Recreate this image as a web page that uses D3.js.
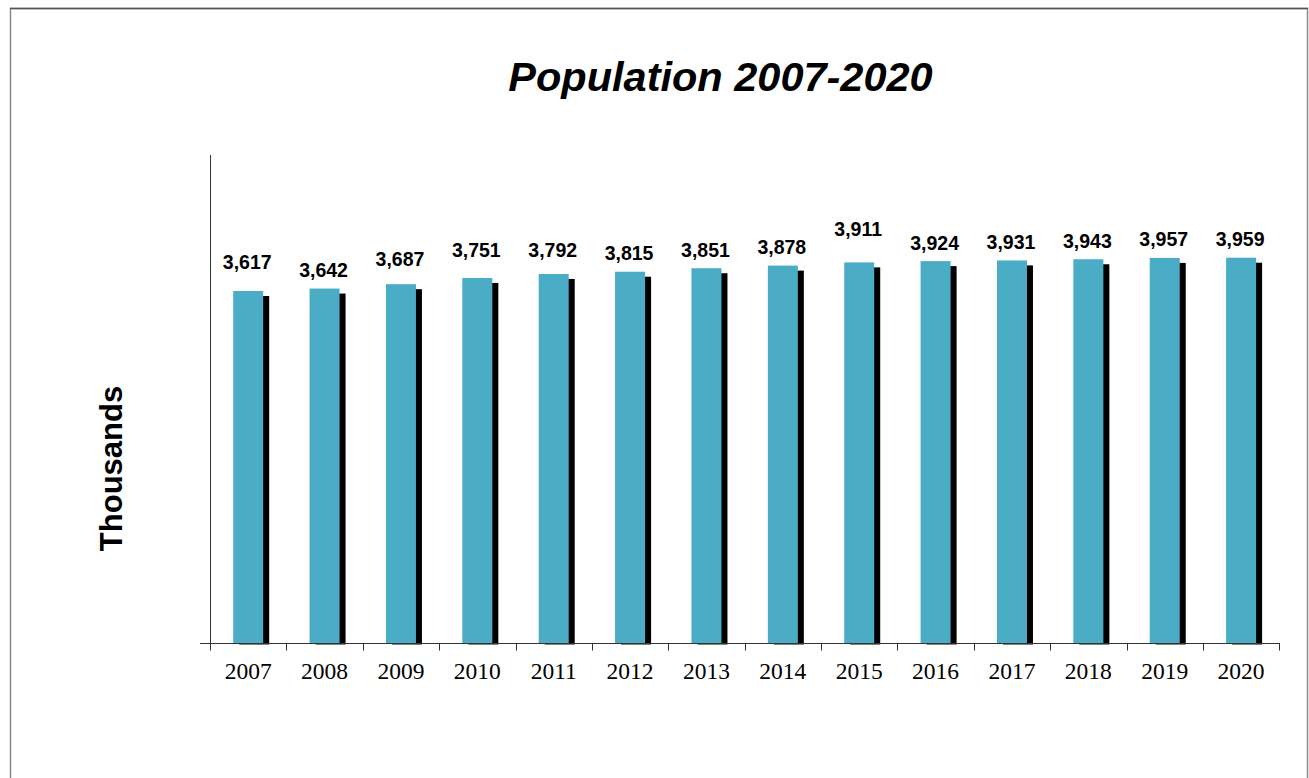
<!DOCTYPE html>
<html>
<head>
<meta charset="utf-8">
<script src="https://cdn.jsdelivr.net/npm/d3@7"></script>
<style>
  html, body { margin: 0; padding: 0; background: #fff; }
  svg { display: block; }
</style>
</head>
<body>
<svg id="chart" width="1309" height="778"></svg>
<script>
// ---- data ----
const years = ["2007","2008","2009","2010","2011","2012","2013","2014","2015","2016","2017","2018","2019","2020"];
const population = [3617, 3642, 3687, 3751, 3792, 3815, 3851, 3878, 3911, 3924, 3931, 3943, 3957, 3959];
const yDomain = [0, 5000];
const titleText = "Population 2007-2020";
const yAxisTitle = "Thousands";

// ---- layout (label lifts as placed in the original chart) ----
const labelLift = [10, 0, 6.5, 9, 5, 0, 0, 0, 15, 0, 0, 0, 0, 0];

const svg = d3.select("#chart");
const plot = { left: 210, right: 1279.3, top: 156.4, bottom: 643 };

// frame
svg.append("rect").attr("x", 10.5).attr("y", 8.5).attr("width", 1297).attr("height", 800)
  .attr("fill", "none").attr("stroke", "#8a8a8a").attr("stroke-width", 1.5);
svg.append("line").attr("x1", 10).attr("x2", 1308).attr("y1", 8.5).attr("y2", 8.5)
  .attr("stroke", "#555").attr("stroke-width", 1.5);

const x = d3.scaleBand().domain(years).range([plot.left, plot.right]).padding(0);
const y = d3.scaleLinear().domain(yDomain).range([plot.bottom, plot.top]);
const barW = 30;
const sdx = 6, sdy = 5;

svg.append("defs").append("clipPath").attr("id", "plotclip")
  .append("rect").attr("x", plot.left).attr("y", 0).attr("width", plot.right - plot.left + 20).attr("height", plot.bottom + 1.5);

const data = years.map((yr, i) => ({ yr, v: population[i], lift: labelLift[i] }));

// shadows
svg.append("g").attr("clip-path", "url(#plotclip)")
  .selectAll("rect").data(data).join("rect")
  .attr("x", d => x(d.yr) + x.bandwidth() / 2 - barW / 2 + sdx)
  .attr("y", d => y(d.v) + sdy)
  .attr("width", barW)
  .attr("height", d => y(0) - y(d.v))
  .attr("fill", "#000");

// bars
svg.append("g").selectAll("rect").data(data).join("rect")
  .attr("x", d => x(d.yr) + x.bandwidth() / 2 - barW / 2)
  .attr("y", d => y(d.v))
  .attr("width", barW)
  .attr("height", d => y(0) - y(d.v))
  .attr("fill", "#4BACC6");

// axes
const axisColor = "#333";
svg.append("line").attr("x1", plot.left + 0.5).attr("x2", plot.left + 0.5)
  .attr("y1", 155).attr("y2", plot.bottom).attr("stroke", axisColor).attr("stroke-width", 1);

const xAxis = d3.axisBottom(x).tickSize(0).tickPadding(0);
const gx = svg.append("g").attr("transform", `translate(0,${plot.bottom + 0.5})`).call(xAxis);
gx.select(".domain").remove();
gx.selectAll("text").attr("font-family", "'Liberation Serif', 'Times New Roman', serif")
  .attr("font-size", 23.5).attr("fill", "#000").attr("dy", null).attr("y", 35.5);

svg.append("line").attr("x1", 200).attr("x2", plot.right + 0.5)
  .attr("y1", plot.bottom + 0.5).attr("y2", plot.bottom + 0.5)
  .attr("stroke", axisColor).attr("stroke-width", 1);

const boundaries = years.map(yr => x(yr)).concat([plot.right]);
svg.append("g").selectAll("line").data(boundaries).join("line")
  .attr("x1", d => Math.round(d) + 0.5).attr("x2", d => Math.round(d) + 0.5)
  .attr("y1", plot.bottom).attr("y2", plot.bottom + 7.5)
  .attr("stroke", axisColor).attr("stroke-width", 1);

// value labels
const fmt = d3.format(",");
svg.append("g").selectAll("text").data(data).join("text")
  .attr("x", d => x(d.yr) + x.bandwidth() / 2 - 1)
  .attr("y", d => y(d.v) - 11.5 - d.lift)
  .attr("text-anchor", "middle")
  .attr("font-family", "'Liberation Sans', Arial, sans-serif")
  .attr("font-weight", "bold")
  .attr("font-size", 19.5)
  .attr("fill", "#000")
  .text(d => fmt(d.v));

// title
svg.append("text").attr("x", 720.5).attr("y", 91)
  .attr("text-anchor", "middle")
  .attr("font-family", "'Liberation Sans', Arial, sans-serif")
  .attr("font-weight", "bold").attr("font-style", "italic")
  .attr("font-size", 41.5).attr("fill", "#000")
  .text(titleText);

// y axis title
svg.append("text").attr("transform", "translate(122,468.5) rotate(-90)")
  .attr("text-anchor", "middle")
  .attr("font-family", "'Liberation Sans', Arial, sans-serif")
  .attr("font-weight", "bold").attr("font-size", 31).attr("fill", "#000")
  .text(yAxisTitle);
</script>
</body>
</html>
